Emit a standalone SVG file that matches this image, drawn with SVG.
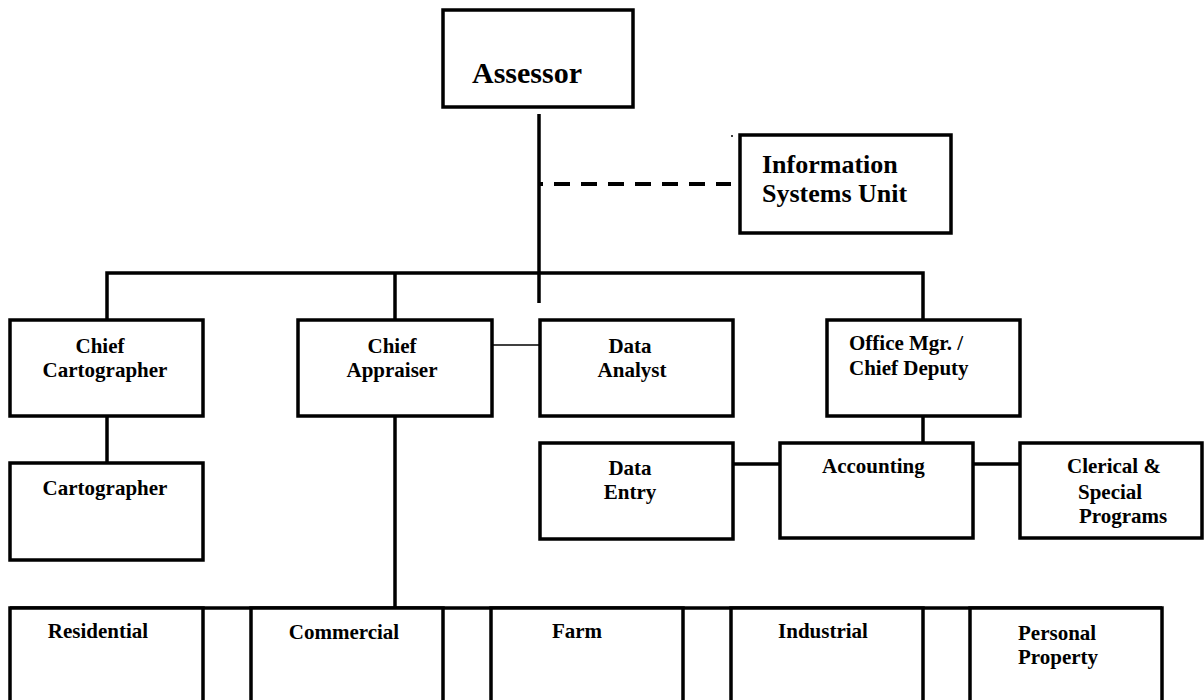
<svg xmlns="http://www.w3.org/2000/svg" width="1204" height="700" viewBox="0 0 1204 700">
<style>
.box{fill:#fff;stroke:#000;stroke-width:3.5}
.ln{fill:none;stroke:#000;stroke-width:3.5}
.thin{fill:none;stroke:#000;stroke-width:1.5}
.dash{fill:none;stroke:#000;stroke-width:4;stroke-dasharray:16 11;stroke-dashoffset:13}
text{font-family:"Liberation Serif","Times New Roman",serif;font-weight:bold;font-size:21px;fill:#000}
.mid{text-anchor:middle}
</style>
<rect width="1204" height="700" fill="#fff"/>
<g id="connectors">
<line class="ln" x1="539" y1="114" x2="539" y2="303"/>
<line class="dash" x1="540" y1="184" x2="731" y2="184"/>
<polyline class="ln" points="107,320 107,273 923,273 923,320"/>
<line class="ln" x1="395" y1="273" x2="395" y2="320"/>
<line class="thin" x1="492" y1="345" x2="540" y2="345"/>
<line class="ln" x1="107" y1="416" x2="107" y2="463"/>
<line class="ln" x1="395" y1="416" x2="395" y2="608"/>
<line class="ln" x1="923" y1="416" x2="923" y2="443"/>
<line class="ln" x1="733" y1="464" x2="780" y2="464"/>
<line class="ln" x1="973" y1="464" x2="1020" y2="464"/>
<line class="ln" x1="10" y1="608" x2="1162" y2="608"/>
<circle cx="732" cy="136" r="1" fill="#000"/>
</g>
<g id="assessor"><rect class="box" x="443" y="10" width="190" height="97"/><text x="472" y="83" style="font-size:30px">Assessor</text></g>
<g id="info-systems"><rect class="box" x="740" y="135" width="211" height="98"/><text x="762" y="173" style="font-size:26px">Information</text><text x="762" y="202" style="font-size:26px">Systems Unit</text></g>
<g id="chief-cartographer"><rect class="box" x="10" y="320" width="193" height="96"/><text class="mid" x="100" y="353">Chief</text><text class="mid" x="105" y="377">Cartographer</text></g>
<g id="chief-appraiser"><rect class="box" x="298" y="320" width="194" height="96"/><text class="mid" x="392" y="353">Chief</text><text class="mid" x="392" y="377">Appraiser</text></g>
<g id="data-analyst"><rect class="box" x="540" y="320" width="193" height="96"/><text class="mid" x="630" y="353">Data</text><text class="mid" x="632" y="377">Analyst</text></g>
<g id="office-mgr"><rect class="box" x="827" y="320" width="193" height="96"/><text x="849" y="350">Office Mgr. /</text><text x="849" y="375">Chief Deputy</text></g>
<g id="cartographer"><rect class="box" x="10" y="463" width="193" height="97"/><text class="mid" x="105" y="495">Cartographer</text></g>
<g id="data-entry"><rect class="box" x="540" y="443" width="193" height="96"/><text class="mid" x="630" y="475">Data</text><text class="mid" x="630" y="499">Entry</text></g>
<g id="accounting"><rect class="box" x="780" y="443" width="193" height="95"/><text x="822" y="473">Accounting</text></g>
<g id="clerical"><rect class="box" x="1020" y="443" width="182" height="95"/><text x="1067" y="473">Clerical &amp;</text><text x="1078" y="499">Special</text><text x="1079" y="523">Programs</text></g>
<g id="residential"><rect class="box" x="10" y="608" width="193" height="100"/><text class="mid" x="98" y="638">Residential</text></g>
<g id="commercial"><rect class="box" x="251" y="608" width="192" height="100"/><text class="mid" x="344" y="639">Commercial</text></g>
<g id="farm"><rect class="box" x="491" y="608" width="192" height="100"/><text class="mid" x="577" y="638">Farm</text></g>
<g id="industrial"><rect class="box" x="731" y="608" width="192" height="100"/><text class="mid" x="823" y="638">Industrial</text></g>
<g id="personal-property"><rect class="box" x="970" y="608" width="192" height="100"/><text x="1018" y="640">Personal</text><text x="1018" y="664">Property</text></g>
</svg>
